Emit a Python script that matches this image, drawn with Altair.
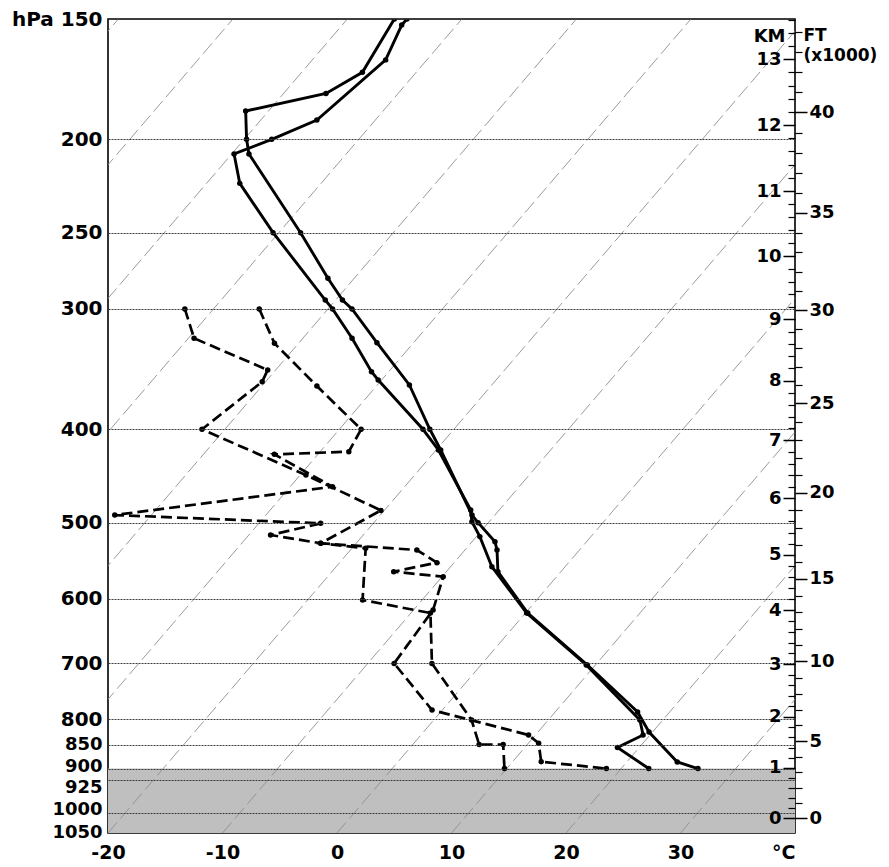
import math
import altair as alt
import pandas as pd

# ---------------- data (pressure hPa, temperature degC) ----------------
# solid curve 1
p_a = [150, 170.4, 179.2, 186.9, 200, 207.1, 250, 278.8, 293.7, 300, 325.2, 359.8, 400, 420.3,
       491, 500, 523.3, 533.8, 562.2, 620.6, 702.7, 786.3, 824.9, 886, 900]
t_a = [-55.9, -54.7, -56.3, -62.0, -59.8, -58.5, -48.1, -42.3, -39.4, -37.9, -33.2, -27.2, -22.1, -19.6,
       -12.0, -10.9, -8.0, -7.2, -5.5, 0.2, 9.3, 17.2, 19.7, 24.4, 26.7]
# solid curve 2
p_b = [150, 152.2, 165.4, 191, 200, 207.1, 222.2, 250, 293.7, 300, 321.8, 348.6, 355.5, 400, 420.3,
       485, 499, 517, 555.5, 620.6, 702.7, 801.5, 830.7, 856, 900]
t_b = [-54.8, -54.8, -53.6, -55.1, -57.6, -59.8, -57.1, -50.5, -40.9, -39.6, -35.7, -31.5, -30.3, -22.7, -19.8,
       -12.5, -11.5, -9.7, -6.4, 0.1, 9.2, 18.0, 19.4, 18.1, 22.4]
# dashed curve 1
p_c = [300, 321.8, 347.1, 357, 400, 446.2, 485.6, 525.3, 533.8, 550.2, 562.2, 569, 616, 700,
       782.6, 830.7, 847.4, 885.5, 900]
t_c = [-52.5, -49.5, -40.7, -40.3, -42.0, -29.5, -20.3, -23.1, -14.2, -11.5, -14.6, -9.9, -8.3, -7.7,
       -0.9, 9.4, 10.9, 12.5, 18.7]
# dashed curve 2
p_d = [300, 325.7, 360.7, 400, 422, 424.7, 458.9, 491, 500.8, 515, 525.3, 531.6, 601.6, 620.6, 700,
       801.5, 850, 850, 900]
t_d = [-46.0, -42.1, -35.2, -28.1, -27.5, -33.8, -26.3, -43.2, -24.6, -28.1, -23.1, -18.8, -15.2, -8.3, -4.4,
       3.3, 5.8, 7.9, 9.8]

# shaded layer below 900 hPa
shade_top = [900]
shade_bottom = [1050]

# background isotherms (degC)
iso_t = [-90, -80, -70, -60, -50, -40, -30, -20, -10, 0, 10, 20, 30, 40]
iso_p = [1050, 150]

# axis ticks
p_levels = [150, 200, 250, 300, 400, 500, 600, 700, 800, 850, 900, 925, 1000, 1050]
t_ticks = [-20, -10, 0, 10, 20, 30, 40]
km_labels = [0, 1, 2, 3, 4, 5, 6, 7, 8, 9, 10, 11, 12, 13]
ft_labels = [0, 5, 10, 15, 20, 25, 30, 35, 40]
km_minor_step = 0.2
ft_minor_step = 1

SKEW = 31.3
P0 = 1050
W, H = 687, 814
FONT = "DejaVu Sans"


def std_p(h_km):
    h = h_km * 1000.0
    if h <= 11000:
        return 1013.25 * (1 - 2.25577e-5 * h) ** 5.25588
    return 226.32 * math.exp(-(h - 11000) / 6341.62)


km_p = [std_p(k) for k in km_labels]
ft_p = [std_p(f * 0.3048) for f in ft_labels]
km_minor_p = [std_p(i * km_minor_step) for i in range(0, 75)
              if i % 5 != 0 and std_p(i * km_minor_step) >= 150]
ft_minor_p = [std_p(i * ft_minor_step * 0.3048) for i in range(0, 50)
              if i % 5 != 0 and std_p(i * ft_minor_step * 0.3048) >= 150]

h_expr = ("(datum.value >= 226.32 ? 44.3308*(1-pow(datum.value/1013.25,0.190263))"
          " : 11+6.34162*log(226.32/datum.value))")

rows = []
for name, ps, ts, kind in [("A", p_a, t_a, "solid"), ("B", p_b, t_b, "solid"),
                           ("C", p_c, t_c, "dash"), ("D", p_d, t_d, "dash")]:
    for i, (p, t) in enumerate(zip(ps, ts)):
        rows.append({"series": name, "kind": kind, "i": i, "p": p, "t": t})
snd = pd.DataFrame(rows)

iso = pd.DataFrame([{"iso": t, "t": t, "p": p} for t in iso_t for p in iso_p])
shade = pd.DataFrame({"x1": [-20], "x2": [40], "p1": shade_top, "p2": shade_bottom})
dummy = pd.DataFrame({"p": [150, 1050]})

yscale = alt.Scale(type="log", domain=[150, 1050], reverse=True, nice=False, zero=False)
xscale = alt.Scale(domain=[-20, 40], nice=False, zero=False)
skew_calc = f"datum.t + {SKEW}*log({P0}/datum.p)"

x_axis = alt.Axis(values=t_ticks, title=None, grid=False, ticks=False, domain=False,
                  labelExpr="datum.value == 40 ? '°C' : '' + datum.value",
                  labelAlign={"condition": {"test": "datum.value == 40", "value": "right"}, "value": "center"},
                  labelFont=FONT, labelFontSize=19, labelFontWeight="bold", labelColor="black",
                  labelPadding=10, labelFlush=False, labelOverlap=False)

y_axis = alt.Axis(values=p_levels, title=None, orient="left", grid=True, gridColor="#3a3a3a",
                  gridDash=[2, 1], gridWidth=1, ticks=False, domain=False,
                  labelExpr="datum.value == 150 ? 'hPa 150' : format(datum.value, 'd')",
                  labelFont=FONT, labelFontWeight="bold", labelColor="black",
                  labelFontSize={"condition": {"test": "datum.value >= 850", "value": 18}, "value": 20},
                  labelPadding=6, labelOverlap=False, labelFlush=False, labelBaseline="middle",
                  labelOffset={"condition": [
                      {"test": "datum.value == 900", "value": -2},
                      {"test": "datum.value == 925", "value": 8},
                      {"test": "datum.value == 1000", "value": -3},
                      {"test": "datum.value == 1050", "value": -1}], "value": 0},
                  zindex=1)

shade_layer = alt.Chart(shade).mark_rect(color="#bfbfbf").encode(
    x=alt.X("x1:Q", scale=xscale, axis=x_axis), x2="x2:Q",
    y=alt.Y("p1:Q", scale=yscale, axis=None), y2="p2:Q")

iso_layer = alt.Chart(iso).transform_calculate(X=skew_calc).mark_line(
    clip=True, color="#8f8f8f", strokeWidth=0.9, strokeDash=[14, 5]).encode(
    x=alt.X("X:Q", scale=xscale, axis=x_axis),
    y=alt.Y("p:Q", scale=yscale, axis=None),
    detail="iso:N")

solid_layer = alt.Chart(snd).transform_filter("datum.kind == 'solid'").transform_calculate(
    X=skew_calc).mark_line(color="black", strokeWidth=2.9, clip=True).encode(
    x=alt.X("X:Q", scale=xscale, axis=x_axis),
    y=alt.Y("p:Q", scale=yscale, axis=y_axis),
    detail="series:N", order="i:Q")

dash_layer = alt.Chart(snd).transform_filter("datum.kind == 'dash'").transform_calculate(
    X=skew_calc).mark_line(color="black", strokeWidth=2.7, strokeDash=[11, 5], clip=True).encode(
    x=alt.X("X:Q", scale=xscale, axis=x_axis),
    y=alt.Y("p:Q", scale=yscale, axis=None),
    detail="series:N", order="i:Q")

pts_layer = alt.Chart(snd).transform_calculate(X=skew_calc).mark_circle(
    color="black", size=30, opacity=1, clip=True).encode(
    x=alt.X("X:Q", scale=xscale, axis=x_axis),
    y=alt.Y("p:Q", scale=yscale, axis=None))

common_right = dict(labelFont=FONT, labelFontWeight="bold", labelColor="black", labelFontSize=18,
                    tickColor="black", tickWidth=1.5, grid=False, domain=False,
                    labelOverlap=False, labelFlush=False, labelBaseline="middle", zindex=1)

km_layer = alt.Chart(dummy).mark_point(opacity=0).encode(
    y=alt.Y("p:Q", scale=yscale, axis=alt.Axis(
        orient="left", offset=-W, values=km_p, tickSize=12, labelPadding=2,
        labelExpr="format(round(" + h_expr + "), 'd')",
        title="KM", titleAngle=0, titleAlign="right", titleBaseline="top",
        titleX=-10, titleY=8, titleFont=FONT, titleFontSize=18, titleFontWeight="bold",
        titleColor="black", **common_right)))

km_minor_layer = alt.Chart(dummy).mark_point(opacity=0).encode(
    y=alt.Y("p:Q", scale=yscale, axis=alt.Axis(
        orient="left", offset=-W, values=km_minor_p, tickSize=7, labels=False, title=None,
        tickColor="black", tickWidth=1.2, grid=False, domain=False, zindex=1)))

ft_layer = alt.Chart(dummy).mark_point(opacity=0).encode(
    y=alt.Y("p:Q", scale=yscale, axis=alt.Axis(
        orient="right", values=ft_p, tickSize=12, labelPadding=2,
        labelExpr="format(round((" + h_expr + ")/0.3048), 'd')",
        title=["FT", "(x1000)"], titleAngle=0, titleAlign="left", titleBaseline="top",
        titleX=8, titleY=8, titleFont=FONT, titleFontSize=17, titleFontWeight="bold",
        titleLineHeight=20, titleColor="black", **common_right)))

ft_minor_layer = alt.Chart(dummy).mark_point(opacity=0).encode(
    y=alt.Y("p:Q", scale=yscale, axis=alt.Axis(
        orient="right", values=ft_minor_p, tickSize=7, labels=False, title=None,
        tickColor="black", tickWidth=1.2, grid=False, domain=False, zindex=1)))

chart = alt.layer(
    shade_layer, iso_layer, solid_layer, dash_layer, pts_layer,
    km_layer, km_minor_layer, ft_layer, ft_minor_layer
).resolve_axis(y="independent").properties(
    width=W, height=H,
    autosize=alt.AutoSizeParams(type="none"),
    padding={"left": 100, "top": 11, "right": 86, "bottom": 34},
    background="white",
).configure_view(stroke="black", strokeWidth=1.6)

chart.save("out.html", embed_options={"renderer": "svg", "actions": False})
